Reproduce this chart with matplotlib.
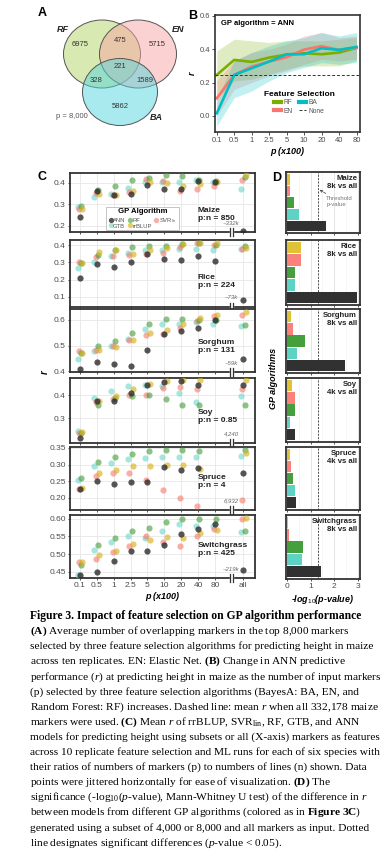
import numpy as np
import matplotlib
matplotlib.use("Agg")
import matplotlib.pyplot as plt
from matplotlib.patches import Ellipse, Rectangle
from matplotlib.lines import Line2D
from matplotlib.colors import to_rgba

plt.rcParams['font.family'] = ['Liberation Sans', 'DejaVu Sans']
plt.rcParams['mathtext.fontset'] = 'custom'
plt.rcParams['mathtext.rm'] = 'Liberation Serif'
plt.rcParams['mathtext.it'] = 'Liberation Serif:italic'
plt.rcParams['mathtext.bf'] = 'Liberation Serif:bold'
plt.rcParams['mathtext.sf'] = 'Liberation Sans'

# ---------------- data ----------------
# A: Venn counts
venn_sets = ['RF', 'EN', 'BA']
venn_counts = [6975, 475, 5715, 328, 221, 1589, 5862]  # RF, RF&EN, EN, RF&BA, all, EN&BA, BA

# B: ANN r vs number of selected markers
b_x_labels = ['0.1', '0.5', '1', '2.5', '5', '10', '20', '40', '80']
b_rf = [0.246, 0.336, 0.324, 0.350, 0.368, 0.376, 0.370, 0.380, 0.408]
b_rf_lo = [0.10, 0.21, 0.22, 0.25, 0.28, 0.30, 0.30, 0.30, 0.33]
b_rf_hi = [0.39, 0.46, 0.45, 0.44, 0.45, 0.45, 0.45, 0.46, 0.47]
b_en = [0.106, 0.246, 0.296, 0.326, 0.352, 0.398, 0.418, 0.396, 0.408]
b_en_lo = [0.00, 0.16, 0.20, 0.24, 0.27, 0.31, 0.34, 0.33, 0.34]
b_en_hi = [0.21, 0.33, 0.38, 0.40, 0.43, 0.48, 0.50, 0.47, 0.48]
b_ba = [0.016, 0.246, 0.286, 0.326, 0.370, 0.370, 0.406, 0.396, 0.414]
b_ba_lo = [-0.06, 0.11, 0.15, 0.21, 0.26, 0.29, 0.32, 0.31, 0.32]
b_ba_hi = [0.10, 0.33, 0.38, 0.42, 0.45, 0.47, 0.50, 0.48, 0.50]
b_none = 0.246

# C: mean r per species / algorithm (x: 0.1 ... 80, all)
c_x_labels = ['0.1', '0.5', '1', '2.5', '5', '10', '20', '40', '80', 'all']
nan = np.nan
maize_r = {
    'ANN':    [0.242, 0.362, 0.342, 0.348, 0.388, 0.369, 0.369, 0.406, 0.403, 0.177],
    'RF':     [0.292, 0.368, 0.385, 0.411, 0.422, 0.434, 0.431, 0.411, 0.406, 0.426],
    'SVR':    [0.280, 0.354, 0.345, 0.357, 0.415, 0.406, 0.360, 0.369, 0.385, 0.411],
    'GTB':    [0.288, 0.334, 0.346, 0.375, 0.403, 0.403, 0.403, 0.411, 0.403, 0.372],
    'rrBLUP': [0.280, 0.350, 0.345, 0.360, 0.403, 0.400, 0.385, 0.395, 0.403, 0.434],
}
rice_r = {
    'ANN':    [0.210, 0.288, 0.273, 0.302, 0.351, 0.322, 0.316, 0.335, 0.307, 0.081],
    'RF':     [0.296, 0.341, 0.370, 0.390, 0.394, 0.394, 0.406, 0.410, 0.400, 0.394],
    'SVR':    [0.302, 0.331, 0.335, 0.341, 0.350, 0.355, 0.390, 0.410, 0.400, 0.380],
    'GTB':    [0.269, 0.302, 0.335, 0.355, 0.374, 0.370, 0.380, 0.380, 0.370, 0.380],
    'rrBLUP': [0.298, 0.361, 0.374, 0.350, 0.374, 0.386, 0.406, 0.410, 0.410, 0.386],
}
sorghum_r = {
    'ANN':    [0.410, 0.438, 0.427, 0.420, 0.483, 0.544, 0.557, 0.569, 0.600, 0.450],
    'RF':     [0.471, 0.500, 0.519, 0.550, 0.582, 0.601, 0.601, 0.598, 0.597, 0.578],
    'SVR':    [0.478, 0.483, 0.500, 0.523, 0.541, 0.546, 0.567, 0.593, 0.613, 0.619],
    'GTB':    [0.448, 0.480, 0.500, 0.527, 0.563, 0.582, 0.582, 0.589, 0.585, 0.575],
    'rrBLUP': [0.473, 0.483, 0.494, 0.522, 0.549, 0.561, 0.582, 0.607, 0.616, 0.629],
}
soy_r = {
    'ANN':    [0.212, 0.374, 0.377, 0.410, 0.447, 0.459, 0.463, 0.444, nan, 0.444],
    'RF':     [0.232, 0.359, 0.390, 0.396, 0.400, 0.385, 0.359, 0.356, nan, 0.359],
    'SVR':    [0.234, 0.371, 0.385, 0.403, 0.400, 0.435, 0.437, 0.428, nan, 0.428],
    'GTB':    [0.244, 0.389, 0.421, 0.440, 0.444, 0.440, 0.410, 0.373, nan, 0.396],
    'rrBLUP': [0.239, 0.374, 0.396, 0.430, 0.450, 0.462, 0.466, 0.466, nan, 0.466],
}
spruce_r = {
    'ANN':    [0.227, 0.251, 0.241, 0.247, 0.247, 0.293, 0.283, 0.290, nan, 0.275],
    'RF':     [0.259, 0.308, 0.323, 0.333, 0.340, 0.343, 0.343, 0.341, nan, 0.345],
    'SVR':    [0.227, 0.266, 0.274, 0.274, 0.254, 0.222, 0.198, 0.175, nan, 0.192],
    'GTB':    [0.254, 0.295, 0.305, 0.318, 0.320, 0.323, 0.323, 0.323, nan, 0.325],
    'rrBLUP': [0.229, 0.274, 0.283, 0.295, 0.296, 0.298, 0.300, 0.286, nan, 0.335],
}
switchgrass_r = {
    'ANN':    [0.440, 0.450, 0.479, 0.510, 0.510, 0.527, 0.557, 0.572, 0.585, 0.454],
    'RF':     [0.468, 0.527, 0.545, 0.566, 0.575, 0.592, 0.599, 0.599, 0.599, 0.566],
    'SVR':    [0.477, 0.486, 0.506, 0.522, 0.552, 0.533, 0.522, 0.552, 0.572, 0.600],
    'GTB':    [0.440, 0.512, 0.533, 0.552, 0.547, 0.566, 0.586, 0.580, 0.580, 0.564],
    'rrBLUP': [0.477, 0.496, 0.510, 0.528, 0.540, 0.548, 0.547, 0.560, 0.569, 0.602],
}
species = ['Maize', 'Rice', 'Sorghum', 'Soy', 'Spruce', 'Switchgrass']
species_r = [maize_r, rice_r, sorghum_r, soy_r, spruce_r, switchgrass_r]
pn_ratio = ['850', '224', '131', '0.85', '4', '425']
total_markers = ['~332k', '~73k', '~59k', '4,240', '6,932', '~219k']
c_ylims = [(0.172, 0.445), (0.04, 0.43), (0.398, 0.641), (0.19, 0.477), (0.163, 0.353), (0.432, 0.611)]
c_yticks = [[0.2, 0.3, 0.4], [0.1, 0.2, 0.3, 0.4], [0.4, 0.5, 0.6], [0.3, 0.4],
            [0.20, 0.25, 0.30, 0.35], [0.45, 0.50, 0.55, 0.60]]
c_yfmt = ['%.1f', '%.1f', '%.1f', '%.1f', '%.2f', '%.2f']
c_label_y = [0.30, 0.375, 0.41, 0.41, 0.45, 0.45]

# D: -log10(p) subset vs all
d_compare = ['8k vs all', '8k vs all', '8k vs all', '4k vs all', '4k vs all', '8k vs all']
d_rrblup = [0.14, 0.61, 0.17, 0.21, 0.13, 0.07]
d_svr = [0.14, 0.61, 0.25, 0.33, 0.17, 0.10]
d_rf = [0.30, 0.35, 0.76, 0.33, 0.26, 0.68]
d_gtb = [0.53, 0.33, 0.42, 0.15, 0.33, 0.63]
d_ann = [1.67, 2.97, 2.44, 0.36, 0.40, 1.45]
threshold = -np.log10(0.05)

algo_colors = {'ANN': '#2b2b2b', 'RF': '#3f9a34', 'SVR': '#f8766d', 'GTB': '#5fd3c3', 'rrBLUP': '#d8b320'}
algo_alpha = {'ANN': 0.8, 'RF': 0.6, 'SVR': 0.6, 'GTB': 0.55, 'rrBLUP': 0.65}
jitter = {'GTB': -0.14, 'SVR': -0.07, 'ANN': 0.0, 'RF': 0.07, 'rrBLUP': 0.13}
draw_order = ['GTB', 'SVR', 'RF', 'rrBLUP', 'ANN']

W, H = 389, 859
fig = plt.figure(figsize=(W / 100, H / 100), dpi=100)


def px_axes(x0, y0, x1, y1):
    return fig.add_axes([x0 / W, 1 - y1 / H, (x1 - x0) / W, (y1 - y0) / H])


def fig_text(x, y, s, **kw):
    fig.text(x / W, 1 - y / H, s, **kw)


dark = '#333333'
tick_col = '#4d4d4d'

# ---------------- A: Venn ----------------
ax = px_axes(40, 5, 200, 135)
ax.set_xlim(40, 200)
ax.set_ylim(135, 5)
ax.axis('off')
venn_fc = ['#b3d465', '#f8a5a5', '#55d6de']
for (cx, cy, w, h), fc in zip([(102, 54, 77, 68), (138, 54, 77, 68), (120, 92, 75, 67)], venn_fc):
    ax.add_patch(Ellipse((cx, cy), w, h, facecolor=to_rgba(fc, 0.5), edgecolor='#555555', lw=0.7))
for (tx, ty), n in zip([(80, 45), (120, 41), (157, 45), (96, 80), (120, 66), (145, 80), (120, 107)], venn_counts):
    ax.text(tx, ty, str(n), ha='center', va='center', fontsize=5.5, color=dark)
for (tx, ty), s in zip([(63, 29), (178, 29), (156, 117)], venn_sets):
    ax.text(tx, ty, s, ha='center', va='center', fontsize=6.5, fontweight='bold', style='italic', color='#222222')
ax.text(72, 116, 'p = 8,000', ha='center', va='center', fontsize=5.5, color='#555555')
fig_text(42, 13, 'A', fontsize=9, fontweight='bold', va='center', ha='center')

# ---------------- B ----------------
ax = px_axes(215, 15, 360, 132)
xb = np.arange(len(b_x_labels))
b_cols = {'RF': '#7cae00', 'EN': '#f8766d', 'BA': '#00bfc4'}
for name, m, lo, hi in [('RF', b_rf, b_rf_lo, b_rf_hi), ('EN', b_en, b_en_lo, b_en_hi),
                        ('BA', b_ba, b_ba_lo, b_ba_hi)]:
    ax.fill_between(xb, lo, hi, color=b_cols[name], alpha=0.24, lw=0)
for name, m in [('RF', b_rf), ('EN', b_en), ('BA', b_ba)]:
    ax.plot(xb, m, color=b_cols[name], lw=1.9)
ax.axhline(b_none, color='#333333', ls=(0, (3, 2)), lw=0.7)
ax.set_xlim(-0.1, 8.2)
ax.set_ylim(-0.096, 0.605)
ax.set_xticks(xb)
ax.set_xticklabels(b_x_labels)
ax.set_yticks([0.0, 0.2, 0.4, 0.6])
ax.set_yticklabels(['0.0', '0.2', '0.4', '0.6'])
ax.tick_params(labelsize=5.5, length=2, width=0.6, pad=1.5, colors=dark, labelcolor=tick_col)
for sp in ax.spines.values():
    sp.set_color(dark)
    sp.set_linewidth(1.2)
ax.set_xlabel('p (x100)', fontsize=6.5, fontweight='bold', style='italic', labelpad=2)
ax.set_ylabel('r', fontsize=6.5, fontweight='bold', style='italic', labelpad=2)
ax.text(0.04, 0.93, 'GP algorithm = ANN', transform=ax.transAxes, fontsize=5.5,
        fontweight='bold', va='center')
hb = [Line2D([], [], color=b_cols['RF'], lw=3), Line2D([], [], color=b_cols['EN'], lw=3),
      Line2D([], [], color=b_cols['BA'], lw=3), Line2D([], [], color='#333333', lw=0.7, ls=(0, (3, 2)))]
leg = ax.legend(hb, ['RF', 'EN', 'BA', 'None'], ncol=2, loc='center', bbox_to_anchor=(0.58, 0.25),
                frameon=False, fontsize=4.8, title='Feature Selection', handlelength=1.1,
                handletextpad=0.4, columnspacing=0.9, labelspacing=0.2, borderpad=0.1)
leg.get_title().set_fontsize(6)
leg.get_title().set_fontweight('bold')
for t in leg.get_texts():
    t.set_color('#555555')
fig_text(193, 16, 'B', fontsize=9, fontweight='bold', va='center', ha='center')

# ---------------- C ----------------
c_boxes = [(70, 173, 255, 232), (70, 240, 255, 307), (70, 309, 255, 372),
           (70, 378, 255, 443), (70, 447, 255, 510), (70, 515, 255, 578)]
xc = np.array([0, 1, 2, 3, 4, 5, 6, 7, 8, 9.68])
c_axes = []
for i, (box, sp_name, r, pn, tot) in enumerate(zip(c_boxes, species, species_r, pn_ratio, total_markers)):
    ax = px_axes(*box)
    c_axes.append(ax)
    ax.set_xlim(-0.59, 10.37)
    ax.set_ylim(*c_ylims[i])
    ax.set_xticks(xc)
    ax.set_yticks(c_yticks[i])
    ax.set_yticklabels([c_yfmt[i] % v for v in c_yticks[i]])
    if i == len(c_boxes) - 1:
        ax.set_xticklabels(c_x_labels)
    else:
        ax.set_xticklabels([])
    ax.grid(True, color='#e6e6e6', lw=0.6)
    ax.set_axisbelow(True)
    ax.tick_params(labelsize=6, length=1.5, width=0.6, pad=1.5, colors=dark, labelcolor=tick_col)
    for sp in ax.spines.values():
        sp.set_color(dark)
        sp.set_linewidth(1.3)
    for alg in draw_order:
        ax.scatter(xc + jitter[alg], r[alg], s=20, color=algo_colors[alg], alpha=algo_alpha[alg],
                   lw=0, zorder=3)
    ax.text(0.69, c_label_y[i], f'{sp_name}\np:n = {pn}',
            transform=ax.transAxes, fontsize=6, fontweight='bold', va='center', ha='left',
            color='#222222', linespacing=1.2)
    # axis break on bottom spine
    trans = ax.get_xaxis_transform()
    ax.add_patch(Rectangle((8.87, -0.04), 0.2, 0.08, transform=trans, color='white',
                           clip_on=False, zorder=5))
    for xk in (8.87, 9.07):
        ax.plot([xk, xk], [-0.06, 0.06], transform=trans, color=dark, lw=0.9,
                clip_on=False, zorder=6)
    ax.text(8.97, 0.1, tot, transform=trans, fontsize=4.3, style='italic', color='#666666',
            ha='center', va='bottom')

c_axes[-1].set_xlabel('p (x100)', fontsize=6.5, fontweight='bold', style='italic', labelpad=2)
hc = [Line2D([], [], marker='o', ls='', color=algo_colors[a], alpha=algo_alpha[a], markersize=3.8,
             markeredgewidth=0) for a in ['ANN', 'GTB', 'RF', 'rrBLUP', 'SVR']]
leg = c_axes[0].legend(hc, ['ANN', 'GTB', 'RF', 'rrBLUP', 'SVR$_{\\mathsf{lin}}$'], ncol=3,
                       loc='lower left', bbox_to_anchor=(0.18, -0.02), fontsize=4.2,
                       title='GP Algorithm', handletextpad=0.0, columnspacing=0.3,
                       labelspacing=0.1, borderpad=0.3, handlelength=0.9, fancybox=False,
                       framealpha=1, edgecolor='#bbbbbb')
leg.get_frame().set_linewidth(0.6)
leg.get_title().set_fontsize(5.6)
leg.get_title().set_fontweight('bold')
for t in leg.get_texts():
    t.set_color('#555555')
leg.set_zorder(10)
fig_text(45, 372, 'r', fontsize=7, fontweight='bold', style='italic', rotation=90, va='center', ha='center')
fig_text(42, 177, 'C', fontsize=9, fontweight='bold', va='center', ha='center')

# ---------------- D ----------------
d_boxes = [(286, 172, 360, 233), (286, 240, 360, 305), (286, 309, 360, 373),
           (286, 378, 360, 442), (286, 447, 360, 510), (286, 515, 360, 579)]
d_order = [('rrBLUP', d_rrblup), ('SVR', d_svr), ('RF', d_rf), ('GTB', d_gtb), ('ANN', d_ann)]
d_colors = {'ANN': '#262626', 'RF': '#3c9a32', 'SVR': '#fa7b74', 'GTB': '#56d1c0', 'rrBLUP': '#dfbf2e'}
d_axes = []
for i, box in enumerate(d_boxes):
    ax = px_axes(*box)
    d_axes.append(ax)
    for k, (alg, vals) in enumerate(d_order):
        ax.barh(4 - k, vals[i], height=0.92, color=d_colors[alg], alpha=0.95, lw=0, zorder=3)
    ax.axvline(threshold, color='#333333', ls=(0, (2.5, 1.5)), lw=0.6, zorder=4)
    ax.set_xlim(-0.03, 3.08)
    ax.set_ylim(-0.6, 4.62)
    ax.set_yticks([])
    ax.set_xticks([0, 1, 2, 3])
    ax.set_xticks([0.5, 1.5, 2.5], minor=True)
    ax.grid(True, axis='x', which='major', color='#e0e0e0', lw=0.6)
    ax.grid(True, axis='x', which='minor', color='#f0f0f0', lw=0.4)
    ax.set_axisbelow(True)
    ax.tick_params(which='both', labelsize=6, length=1.5, width=0.6, pad=1.5, colors=dark,
                   labelcolor=tick_col)
    ax.tick_params(which='minor', length=0)
    if i != len(d_boxes) - 1:
        ax.set_xticklabels([])
    for sp in ax.spines.values():
        sp.set_color(dark)
        sp.set_linewidth(1.3)
    ax.text(0.96, 0.95, f'{species[i]}\n{d_compare[i]}', transform=ax.transAxes, fontsize=5.6,
            fontweight='bold', ha='right', va='top', color='#222222', linespacing=1.25, zorder=6)

d_axes[0].annotate('Threshold\np-value', xy=(1.38, 3.1), xytext=(1.66, 2.55), fontsize=4.3,
                   color='#777777', va='top', ha='left', linespacing=1.1,
                   arrowprops=dict(arrowstyle='->', color='#333333', lw=0.5, linestyle='--',
                                   shrinkA=0, shrinkB=0), zorder=6)
d_axes[-1].set_xlabel('-log$_{\\mathsf{10}}$(p-value)', fontsize=6.5, fontweight='bold',
                      style='italic', labelpad=2)
fig_text(274, 378, 'GP algorithms', fontsize=6.5, fontweight='bold', style='italic',
         rotation=90, va='center', ha='center')
fig_text(277, 178, 'D', fontsize=9, fontweight='bold', va='center', ha='center')

# ---------------- caption ----------------
caption_lines = [
    r"$\mathbf{(A)}$ Average number of overlapping markers in the top 8,000 markers",
    r"selected by three feature selection algorithms for predicting height in maize",
    r"across ten replicates. EN: Elastic Net. $\mathbf{(B)}$ Change in ANN predictive",
    r"performance ($r$) at predicting height in maize as the number of input markers",
    r"(p) selected by three feature selection algorithms (BayesA: BA, EN, and",
    r"Random Forest: RF) increases. Dashed line: mean $r$ when all 332,178 maize",
    r"markers were used. $\mathbf{(C)}$ Mean $r$ of rrBLUP, SVR$_{\mathrm{lin}}$, RF, GTB, and ANN",
    r"models for predicting height using subsets or all (X-axis) markers as features",
    r"across 10 replicate feature selection and ML runs for each of six species with",
    r"their ratios of numbers of markers (p) to numbers of lines (n) shown. Data",
    r"points were jittered horizontally for ease of visualization. $\mathbf{(D)}$ The",
    r"significance (-log$_{\mathrm{10}}$($p$-value), Mann-Whitney U test) of the difference in $r$",
    r"between models from different GP algorithms (colored as in $\mathbf{Figure\ 3C}$)",
    r"generated using a subset of 4,000 or 8,000 and all markers as input. Dotted",
    r"line designates significant differences ($p$-value < 0.05).",
]
fig_text(30, 616, 'Figure 3. Impact of feature selection on GP algorithm performance',
         fontsize=8.4, fontweight='bold', family='Liberation Serif', va='center', ha='left')
for k, line in enumerate(caption_lines):
    fig_text(30, 631.5 + 15.1 * k, line, fontsize=8.2, family='Liberation Serif',
             va='center', ha='left')

fig.savefig('out.png', dpi=100)
